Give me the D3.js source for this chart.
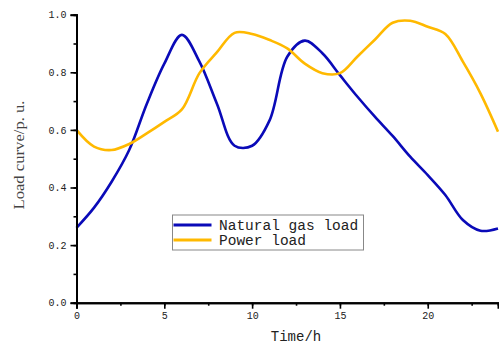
<!DOCTYPE html>
<html>
<head>
<meta charset="utf-8">
<script src="https://cdn.jsdelivr.net/npm/d3@7"></script>
<style>
    body { margin: 0; background: #fff; }
    svg { display: block; }
</style>
</head>
<body>
<div id="chart"></div>
<script>
const hours = d3.range(0, 25);
const gasLoad = [0.26, 0.33, 0.42, 0.53, 0.69, 0.83, 0.93, 0.837, 0.69, 0.545, 0.545, 0.634, 0.854, 0.91, 0.866, 0.79, 0.715, 0.645, 0.579, 0.507, 0.443, 0.374, 0.287, 0.25, 0.258];
const powerLoad = [0.60, 0.542, 0.53, 0.551, 0.588, 0.628, 0.671, 0.797, 0.87, 0.937, 0.933, 0.912, 0.883, 0.83, 0.797, 0.797, 0.855, 0.914, 0.972, 0.979, 0.958, 0.933, 0.837, 0.727, 0.594];
const xTicks = [0, 5, 10, 15, 20];
const yTicks = [0, 0.2, 0.4, 0.6, 0.8, 1.0];
const seriesNames = ["Natural gas load", "Power load"];
const seriesColors = ["#0a0ab8", "#ffb900"];

const width = 499;
const height = 345;
const margin = { left: 76.5, right: 1, top: 14.7, bottom: 42.3 };

const svg = d3.select("#chart").append("svg")
    .attr("width", width)
    .attr("height", height);

const x = d3.scaleLinear().domain([0, 24]).range([margin.left, width - margin.right]);
const y = d3.scaleLinear().domain([0, 1]).range([height - margin.bottom, margin.top]);

const monoFont = "'Liberation Mono', 'DejaVu Sans Mono', monospace";

// lines first, axes on top
const line = d3.line()
    .x((d, i) => x(hours[i]))
    .y(d => y(d))
    .curve(d3.curveCatmullRom.alpha(0.5));

[gasLoad, powerLoad].forEach((values, i) => {
    svg.append("path")
        .datum(values)
        .attr("d", line)
        .attr("fill", "none")
        .attr("stroke", seriesColors[i])
        .attr("stroke-width", 2.6)
        .attr("stroke-linejoin", "round");
});

// minor ticks
const xAxisMinor = d3.axisBottom(x).tickValues(d3.range(0, 24.1, 2.5)).tickSize(3).tickFormat("");
const yAxisMinor = d3.axisLeft(y).tickValues(d3.range(0, 1.01, 0.1)).tickSize(3).tickFormat("");

const xAxis = d3.axisBottom(x).tickValues(xTicks).tickSize(6).tickPadding(3).tickFormat(d3.format("d"));
const yAxis = d3.axisLeft(y).tickValues(yTicks).tickSize(6).tickPadding(4).tickFormat(d3.format(".1f"));

const gx = svg.append("g").attr("transform", `translate(0,${y(0)})`);
gx.append("g").call(xAxisMinor);
gx.append("g").call(xAxis);

const gy = svg.append("g").attr("transform", `translate(${x(0)},0)`);
gy.append("g").call(yAxisMinor);
gy.append("g").call(yAxis);

svg.selectAll(".domain").attr("stroke", "#000").attr("stroke-width", 2);
svg.selectAll(".tick line").attr("stroke", "#000").attr("stroke-width", 1.6);
svg.selectAll(".tick text")
    .attr("fill", "#222")
    .style("font-family", monoFont)
    .style("font-size", "10px");

// axis titles
svg.append("text")
    .attr("x", 296)
    .attr("y", 341)
    .attr("text-anchor", "middle")
    .attr("fill", "#222")
    .style("font-family", monoFont)
    .style("font-size", "14px")
    .text("Time/h");

svg.append("text")
    .attr("transform", "translate(24,155) rotate(-90)")
    .attr("text-anchor", "middle")
    .attr("fill", "#444")
    .attr("textLength", 109)
    .attr("lengthAdjust", "spacingAndGlyphs")
    .style("font-family", "'Liberation Serif', 'DejaVu Serif', serif")
    .style("font-size", "14px")
    .text("Load curve/p. u.");

// legend
const legend = svg.append("g").attr("transform", "translate(172.5,215)");
legend.append("rect")
    .attr("width", 191)
    .attr("height", 35)
    .attr("fill", "#fff")
    .attr("stroke", "#888")
    .attr("stroke-width", 1);

seriesNames.forEach((name, i) => {
    const row = legend.append("g").attr("transform", `translate(0,${10 + i * 15})`);
    row.append("line")
        .attr("x1", 1).attr("x2", 39)
        .attr("stroke", seriesColors[i])
        .attr("stroke-width", 2.8);
    row.append("text")
        .attr("x", 46.5)
        .attr("y", 5)
        .attr("fill", "#222")
        .style("font-family", monoFont)
        .style("font-size", "14.5px")
        .text(name);
});
</script>
</body>
</html>
